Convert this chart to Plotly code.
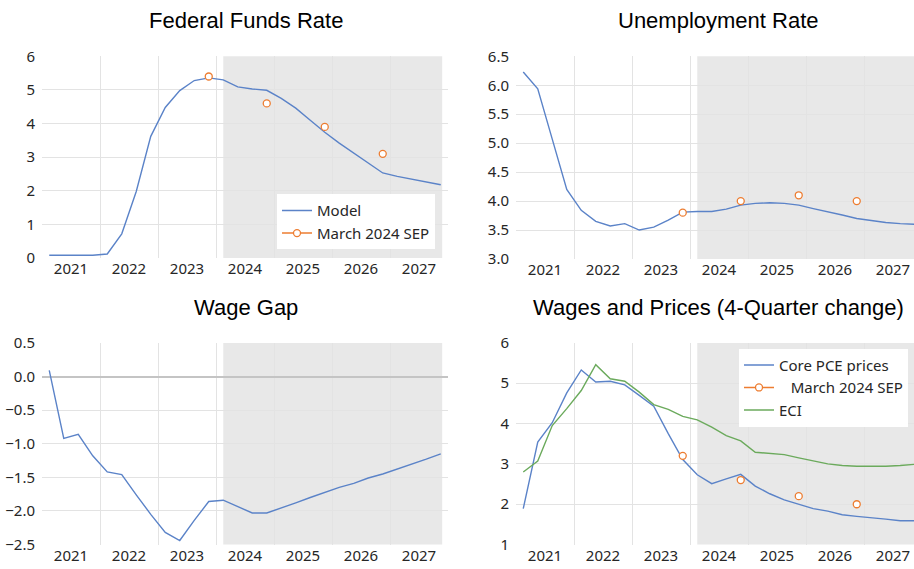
import plotly.graph_objects as go

W, H = 914, 569

years = ["2021", "2022", "2023", "2024", "2025", "2026", "2027"]
quarters = [f"{y}Q{q}" for y in years for q in range(1, 5)]

fed_funds_model = [0.08, 0.08, 0.08, 0.08, 0.12, 0.72, 1.98, 3.62, 4.48, 4.98, 5.28, 5.36,
                   5.30, 5.09, 5.03, 4.99, 4.75, 4.46, 4.10, 3.74, 3.42, 3.12, 2.81, 2.53,
                   2.43, 2.35, 2.26, 2.18]
fed_funds_sep = [None] * 11 + [5.4, None, None, None, 4.6, None, None, None, 3.9,
                               None, None, None, 3.1, None, None, None, None]

unemp_model = [6.23, 5.94, 5.07, 4.20, 3.84, 3.65, 3.57, 3.61, 3.50, 3.55, 3.67, 3.81,
               3.82, 3.82, 3.86, 3.93, 3.96, 3.97, 3.96, 3.93, 3.87, 3.82, 3.76, 3.70,
               3.66, 3.63, 3.61, 3.60]
unemp_sep = [None] * 11 + [3.8, None, None, None, 4.0, None, None, None, 4.1,
                           None, None, None, 4.0, None, None, None, None]

wage_gap = [0.09, -0.92, -0.86, -1.18, -1.42, -1.46, -1.76, -2.05, -2.32, -2.44, -2.14, -1.86,
            -1.84, -1.94, -2.03, -2.03, -1.96, -1.88, -1.80, -1.72, -1.65, -1.59, -1.51, -1.45,
            -1.38, -1.31, -1.23, -1.15]

core_pce = [1.89, 3.54, 4.02, 4.76, 5.33, 5.03, 5.05, 4.96, 4.70, 4.43, 3.75, 3.11,
            2.73, 2.51, 2.63, 2.74, 2.45, 2.26, 2.11, 2.00, 1.89, 1.83, 1.74, 1.70,
            1.67, 1.63, 1.59, 1.59]
pce_sep = [None] * 11 + [3.2, None, None, None, 2.6, None, None, None, 2.2,
                         None, None, None, 2.0, None, None, None, None]
eci = [2.80, 3.07, 3.95, 4.37, 4.82, 5.46, 5.11, 5.05, 4.78, 4.47, 4.35, 4.18,
       4.09, 3.91, 3.70, 3.57, 3.29, 3.26, 3.23, 3.15, 3.07, 3.00, 2.96, 2.94,
       2.94, 2.94, 2.96, 2.99]

forecast_start = "2024Q1"

BLUE = "#5B83C8"
ORANGE = "#ED7D31"
GREEN = "#6BAA5C"
GRID = "#E3E3E3"
SHADE = "#E8E8E8"
TICKFONT = dict(family="Noto Sans", size=15, color="#262626")
TITLEFONT = dict(family="Liberation Sans", size=22, color="#000000")

x = list(range(len(quarters)))
n = len(quarters)
year_centers = [4 * i + 1.5 for i in range(len(years))]
fc = quarters.index(forecast_start)


def px_x(p):
    return p / W


def px_y(p):
    return 1 - p / H


# panel pixel boxes: (left, right, top, bottom)
boxes = {
    1: (42, 448, 47, 256),
    2: (516, 914, 47, 257),
    3: (42, 448, 344, 553),
    4: (516, 914, 344, 553),
}

fig = go.Figure()

line_kw = dict(width=1.4)


def sep_trace(vals, xa, ya, name, legend, show):
    return go.Scatter(x=x, y=vals, xaxis=xa, yaxis=ya, name=name, mode="lines+markers",
                      connectgaps=False, line=dict(color=ORANGE, width=1.4),
                      marker=dict(symbol="circle", size=7, color="white",
                                  line=dict(width=1.3, color=ORANGE)),
                      legend=legend, showlegend=show)


# Panel 1
fig.add_trace(go.Scatter(x=x, y=fed_funds_model, xaxis="x", yaxis="y", name="Model",
                         mode="lines", line=dict(color=BLUE, **line_kw), legend="legend"))
fig.add_trace(sep_trace(fed_funds_sep, "x", "y", "March 2024 SEP", "legend", True))
# Panel 2
fig.add_trace(go.Scatter(x=x, y=unemp_model, xaxis="x2", yaxis="y2", name="Model",
                         mode="lines", line=dict(color=BLUE, **line_kw), showlegend=False))
fig.add_trace(sep_trace(unemp_sep, "x2", "y2", "March 2024 SEP", "legend", False))
# Panel 3
fig.add_trace(go.Scatter(x=x, y=wage_gap, xaxis="x3", yaxis="y3", name="Wage Gap",
                         mode="lines", line=dict(color=BLUE, **line_kw), showlegend=False))
# Panel 4
fig.add_trace(go.Scatter(x=x, y=core_pce, xaxis="x4", yaxis="y4", name="Core PCE prices",
                         mode="lines", line=dict(color=BLUE, **line_kw), legend="legend2"))
fig.add_trace(sep_trace(pce_sep, "x4", "y4", "\u00a0\u00a0\u00a0March 2024 SEP", "legend2", True))
fig.add_trace(go.Scatter(x=x, y=eci, xaxis="x4", yaxis="y4", name="ECI",
                         mode="lines", line=dict(color=GREEN, **line_kw), legend="legend2"))

yspecs = {
    1: dict(range=[0, 6], dtick=1, tickformat="d"),
    2: dict(range=[3, 6.5], dtick=0.5, tickformat=".1f"),
    3: dict(range=[-2.5, 0.5], dtick=0.5, tickformat=".1f"),
    4: dict(range=[1, 6], dtick=1, tickformat="d"),
}
titles = {1: "Federal Funds Rate", 2: "Unemployment Rate", 3: "Wage Gap",
          4: "Wages and Prices (4-Quarter change)"}
title_pos = {1: (246, 10), 2: (718, 10), 3: (246, 307), 4: (718, 307)}

layout = {}
shapes = []
annotations = []
for k, (l, r, t, b) in boxes.items():
    sx = "" if k == 1 else str(k)
    xmax = 27.5 if l < 400 else (r - l) / ((448 - 42) / 28) - 0.5
    layout[f"xaxis{sx}"] = dict(
        domain=[px_x(l), px_x(r)], anchor=f"y{sx}", range=[-0.5, xmax],
        tickmode="array", tickvals=year_centers, ticktext=years, showgrid=False,
        zeroline=False, showline=False, tickfont=TICKFONT, ticks="",
        minor=dict(tickmode="linear", tick0=3.5, dtick=4, showgrid=True,
                   gridcolor=GRID, gridwidth=1, ticks=""),
    )
    ys = yspecs[k]
    layout[f"yaxis{sx}"] = dict(
        domain=[px_y(b), px_y(t)], anchor=f"x{sx}", range=ys["range"], dtick=ys["dtick"],
        tick0=ys["range"][0], tickformat=ys["tickformat"], showgrid=True, gridcolor=GRID,
        gridwidth=1, zeroline=(k == 3), zerolinecolor="#C4C4C4", zerolinewidth=1.5,
        showline=False, tickfont=TICKFONT, ticks="outside", ticklen=3,
        tickcolor="rgba(0,0,0,0)",
    )
    shapes.append(dict(type="rect", xref=f"x{sx}", yref=f"y{sx} domain",
                       x0=fc, x1=n - 1 + 0.1, y0=0, y1=1, fillcolor=SHADE,
                       line=dict(width=0), layer="below"))
    tx, ty = title_pos[k]
    annotations.append(dict(text=titles[k], xref="paper", yref="paper",
                            x=px_x(tx), y=px_y(ty),
                            xanchor="center", yanchor="middle", showarrow=False,
                            font=TITLEFONT))

LEGFONT = dict(family="Noto Sans", size=15, color="#262626")
fig.update_layout(
    width=W, height=H, margin=dict(l=0, r=0, t=0, b=0),
    paper_bgcolor="white", plot_bgcolor="white",
    shapes=shapes, annotations=annotations,
    legend=dict(x=px_x(277), y=px_y(190), xanchor="left", yanchor="top",
                bgcolor="white", borderwidth=0, font=LEGFONT,
                itemwidth=30, tracegroupgap=0),
    legend2=dict(x=px_x(739), y=px_y(350), xanchor="left", yanchor="top",
                 bgcolor="white", borderwidth=0, font=LEGFONT,
                 itemwidth=30, tracegroupgap=0),
    **layout,
)

fig.write_html("out.html", config={"displayModeBar": False},
               post_script="document.body.style.margin='0px';")
